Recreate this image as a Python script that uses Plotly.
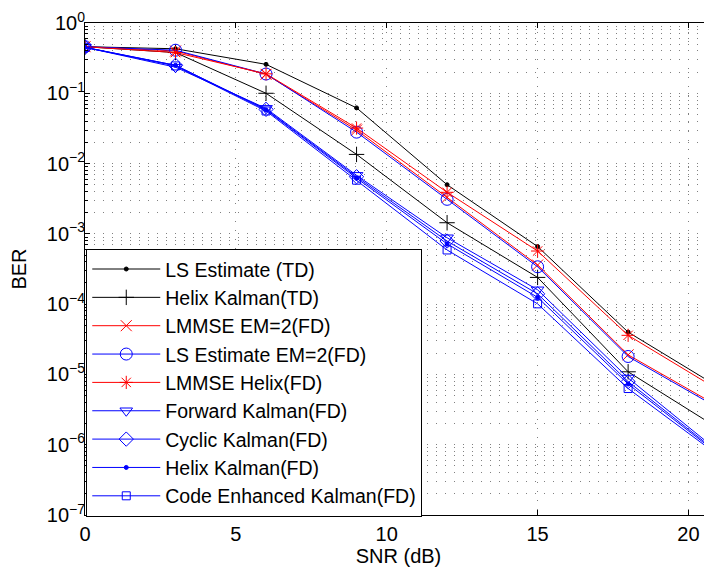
import plotly.graph_objects as go

snr = [0, 3, 6, 9, 12, 15, 18, 21]

names = [
    "LS Estimate (TD)",
    "Helix Kalman(TD)",
    "LMMSE EM=2(FD)",
    "LS Estimate EM=2(FD)",
    "LMMSE Helix(FD)",
    "Forward Kalman(FD)",
    "Cyclic Kalman(FD)",
    "Helix Kalman(FD)",
    "Code Enhanced Kalman(FD)",
]

ls_td = [0.46, 0.43, 0.258, 0.062, 0.0050, 0.00066, 4.0e-5, 6.6e-6]
helix_td = [0.46, 0.38, 0.100, 0.0135, 0.00144, 0.00024, 1.09e-5, 1.7e-6]
lmmse_em2 = [0.46, 0.40, 0.186, 0.030, 0.0033, 0.00036, 1.9e-5, 3.5e-6]
ls_em2 = [0.46, 0.41, 0.188, 0.028, 0.0031, 0.00034, 1.8e-5, 3.3e-6]
lmmse_helix = [0.46, 0.38, 0.189, 0.032, 0.0039, 0.00057, 3.6e-5, 6.0e-6]
fwd_kalman = [0.45, 0.235, 0.061, 0.0068, 0.00088, 0.00016, 8.9e-6, 8.0e-7]
cyc_kalman = [0.45, 0.25, 0.059, 0.0065, 0.00079, 0.00014, 7.9e-6, 7.6e-7]
helix_fd = [0.45, 0.25, 0.058, 0.0062, 0.00072, 0.000125, 7.3e-6, 7.3e-7]
code_kalman = [0.45, 0.245, 0.056, 0.0058, 0.00059, 0.000101, 6.3e-6, 7.0e-7]

series = [ls_td, helix_td, lmmse_em2, ls_em2, lmmse_helix,
          fwd_kalman, cyc_kalman, helix_fd, code_kalman]

colors = ["black", "black", "red", "blue", "red", "blue", "blue", "blue", "blue"]
symbols = ["circle", "cross-thin-open", "x-thin-open", "circle-open",
           "asterisk-open", "triangle-down-open", "diamond-open", "circle",
           "square-open"]
sizes = [4, 11, 11, 12, 11, 11, 11, 4, 8]

x_ticks = [0, 5, 10, 15, 20]
y_tick_vals = [1e-7, 1e-6, 1e-5, 1e-4, 1e-3, 1e-2, 1e-1, 1e0]
y_tick_text = ["10<sup>−7</sup>", "10<sup>−6</sup>", "10<sup>−5</sup>",
               "10<sup>−4</sup>", "10<sup>−3</sup>", "10<sup>−2</sup>",
               "10<sup>−1</sup>", "10<sup>0</sup>"]
y_minor_vals = [m * 10.0 ** e for e in range(-7, 0) for m in range(2, 10)]

fig = go.Figure()
for name, ys, c, s, sz in zip(names, series, colors, symbols, sizes):
    fig.add_trace(go.Scatter(
        x=snr, y=ys, name=name, mode="lines+markers",
        line=dict(color=c, width=1),
        marker=dict(symbol=s, size=sz, color=c, line=dict(color=c, width=1)),
    ))

font_family = "Liberation Sans, Arial, Helvetica, sans-serif"
grid_col = "#808080"
fig.update_layout(
    width=712, height=573,
    margin=dict(l=77, r=8, t=15, b=66, autoexpand=False),
    paper_bgcolor="white", plot_bgcolor="white",
    font=dict(family=font_family, size=20, color="black"),
    showlegend=True,
    legend=dict(
        x=0.002, y=0.541, xanchor="left", yanchor="top",
        bgcolor="white", bordercolor="black", borderwidth=1,
        font=dict(size=19.5, family=font_family, color="black"),
        itemwidth=68, tracegroupgap=0,
    ),
    xaxis=dict(
        range=[0, 20.78], tickmode="array", tickvals=x_ticks,
        ticks="inside", ticklen=5, tickcolor="black",
        showline=True, linecolor="black", linewidth=1, mirror="ticks",
        showgrid=True, gridcolor=grid_col, griddash="1px,8px", gridwidth=1,
        zeroline=False, automargin=False, ticklabelstandoff=1,
        title=dict(text="SNR (dB)", standoff=4, font=dict(size=20)),
        tickfont=dict(size=20),
    ),
    yaxis=dict(
        type="log", range=[-7, 0],
        tickmode="array", tickvals=y_tick_vals, ticktext=y_tick_text,
        ticks="inside", ticklen=5, tickcolor="black",
        showline=True, linecolor="black", linewidth=1, mirror=False,
        showgrid=True, gridcolor=grid_col, griddash="1px,8px", gridwidth=1,
        zeroline=False, automargin=False, ticklabelstandoff=-5,
        minor=dict(tickmode="array", tickvals=y_minor_vals, ticks="inside",
                   ticklen=3, tickcolor="black", showgrid=True,
                   gridcolor=grid_col, griddash="1px,8px", gridwidth=1),
        title=dict(text="BER", standoff=30, font=dict(size=20)),
        tickfont=dict(size=20),
    ),
)

fig.write_html("out.html")
